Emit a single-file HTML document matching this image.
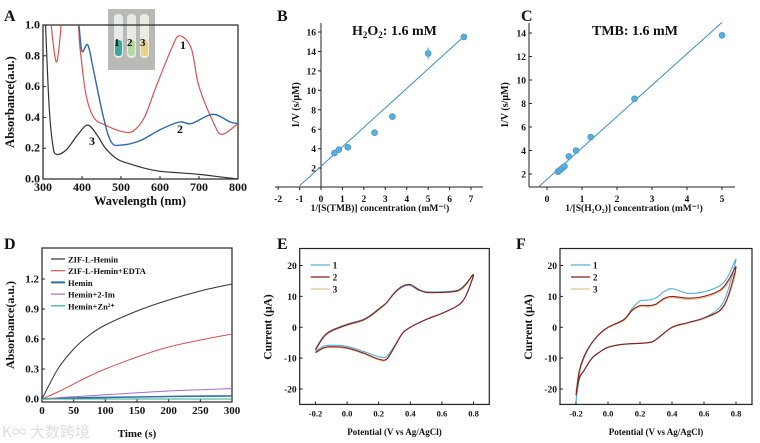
<!DOCTYPE html>
<html><head><meta charset="utf-8"><style>
body{margin:0;background:#fff;width:760px;height:443px;overflow:hidden}
svg{display:block}
text{font-family:"Liberation Serif",serif;font-weight:bold;fill:#111}
</style></head><body>
<svg id="fig" width="760" height="443" viewBox="0 0 760 443" xmlns="http://www.w3.org/2000/svg">
<text x="4" y="21" font-size="16">A</text>
<text x="277" y="21" font-size="16">B</text>
<text x="521" y="21" font-size="16">C</text>
<text x="4" y="249" font-size="16">D</text>
<text x="277" y="249" font-size="16">E</text>
<text x="516" y="249" font-size="16">F</text>
<text x="2" y="437" font-size="15" style="font-family:'Noto Sans CJK SC',sans-serif;font-weight:normal;fill:#ddd">K∞ 大数跨境</text>
<g>
<rect x="108" y="9" width="47" height="61" fill="#b9bab5"/>
<rect x="114" y="14" width="9" height="44" rx="4" fill="#e6ebe8"/><rect x="115" y="40" width="7" height="16" rx="3" fill="#3aa89c"/>
<rect x="127" y="14" width="9" height="44" rx="4" fill="#e8ebe5"/><rect x="128" y="40" width="7" height="16" rx="3" fill="#b7d9a8"/>
<rect x="140" y="14" width="9" height="44" rx="4" fill="#ecebe2"/><rect x="141" y="40" width="7" height="16" rx="3" fill="#e9d27a"/>
<text x="114" y="46" font-size="11">1</text><text x="127" y="46" font-size="11">2</text><text x="140" y="46" font-size="11">3</text>
</g>
</svg>
<script>
// ---- Panel A data
const aWl1=[318,325,335,345,350,385,395,410,430,460,500,530,560,590,630,650,680,700,740,760,800];
const aAbs1=[1.1,0.9,0.76,0.95,1.1,1.1,0.85,0.55,0.4,0.35,0.31,0.31,0.4,0.6,0.85,0.93,0.85,0.6,0.35,0.29,0.36];
const aWl2=[385,392,400,415,430,455,475,500,550,600,650,680,735,780,800];
const aAbs2=[1.1,1.0,0.83,0.87,0.7,0.4,0.24,0.22,0.25,0.32,0.37,0.36,0.42,0.37,0.36];
const aWl3=[305,315,325,335,360,390,415,440,460,490,520,560,600,650,700,750,800];
const aAbs3=[1.1,0.5,0.22,0.16,0.19,0.29,0.35,0.28,0.2,0.13,0.1,0.07,0.05,0.04,0.03,0.015,0.0];
const aXTicks=[300,400,500,600,700,800];
const aYTicks=[0.0,0.2,0.4,0.6,0.8,1.0];
// ---- Panel B data
const bX=[0.625,0.83,1.25,2.5,3.33,5,6.67];
const bY=[3.55,3.9,4.15,5.65,7.3,13.8,15.5];
const bErr=[0.1,0.1,0.1,0.1,0.1,0.6,0.1];
const bFit=[2.0,2.2];
const bXTicks=[-2,-1,0,1,2,3,4,5,6,7];
const bYTicks=[2,4,6,8,10,12,14,16];
// ---- Panel C data
const cX=[0.31,0.36,0.42,0.5,0.625,0.83,1.25,2.5,5];
const cY=[2.2,2.3,2.45,2.65,3.5,4.0,5.15,8.4,13.8];
const cFit=[2.67,1.55];
const cXTicks=[0,1,2,3,4,5];
const cYTicks=[2,4,6,8,10,12,14];
// ---- Panel D data
const dT=[0,25,50,75,100,150,200,250,300];
const dNames=["ZIF-L-Hemin","ZIF-L-Hemin+EDTA","Hemin","Hemin+2-Im","Hemin+Zn²⁺"];
const dSeries=[[0,0.3,0.5,0.64,0.74,0.88,0.99,1.08,1.15],[0,0.07,0.15,0.23,0.3,0.42,0.52,0.59,0.65],[0,0.005,0.01,0.013,0.016,0.02,0.025,0.028,0.03],[0,0.012,0.022,0.032,0.042,0.062,0.08,0.092,0.105],[0,0,0,0,0,0,0,0,0]];
const dColors=["#333","#d9534f","#2f6fa0","#a070c8","#2fae8f"];
const dXTicks=[0,50,100,150,200,250,300];
const dYTicks=[0.0,0.3,0.6,0.9,1.2];
// ---- Panel E data
const eV=[-0.2,-0.15,-0.1,0,0.1,0.15,0.2,0.25,0.3,0.35,0.4,0.45,0.5,0.6,0.7,0.75,0.8,0.75,0.7,0.6,0.5,0.4,0.35,0.3,0.25,0.2,0.1,0,-0.1,-0.15,-0.2];
const eI1=[-7,-3,-1,1,2.5,4,6,8,11,13,13.5,12,11.5,11.5,12,14,17,10,7,4.5,2.5,0,-2,-6,-9.5,-9.5,-7.8,-6.2,-5.8,-6.2,-7.8];
const eI2=[-7.3,-3.2,-1.2,0.8,2.3,3.8,5.8,8,11.2,13.3,13.8,12.3,11.3,11.3,11.8,13.8,17,10,7,4.5,2.5,0,-2,-6.3,-10.3,-10.3,-8.3,-6.7,-6.3,-6.7,-8.2];
const eI3=[-7.5,-3.4,-1.4,0.6,2.1,3.6,5.6,7.8,11,13.1,13.6,12.4,11.5,11.3,11.7,13.6,17,10,7,4.5,2.5,0,-2,-6.5,-10.6,-10.6,-8.5,-6.9,-6.5,-6.9,-8.4];
// ---- Panel F data
const fV=[-0.2,-0.18,-0.15,-0.1,-0.05,0,0.1,0.15,0.2,0.25,0.3,0.35,0.4,0.5,0.6,0.7,0.75,0.8,0.75,0.7,0.6,0.5,0.4,0.3,0.25,0.1,0,-0.05,-0.1,-0.15,-0.18,-0.2];
const fI1=[-24,-15,-10,-5,-2,0,2.5,6,8.5,8.8,9.5,11.5,12.5,11,11.5,13.5,16.5,22,12,6.5,3,1.5,0,-4,-5,-5.5,-6.5,-8,-10,-14,-17,-24];
const fI2=[-22,-14.5,-9.5,-5,-2,0,2.5,5.5,7,7,7.5,9.3,10,9.4,10,12,15,19.5,10,5.5,3,1.5,0,-4,-5,-5.5,-6.5,-8,-10,-14,-16.5,-22];
const fI3=[-21,-14,-9.5,-5,-2.2,-0.2,2.2,5.2,6.6,6.6,7.2,9,9.6,9,9.6,11.5,14.3,18,9.5,5.3,2.8,1.3,-0.2,-4,-5,-5.5,-6.5,-8,-10,-14,-16,-21];
const cvColors=["#4fb0dc","#8b1a1a","#e9c488"];
const cvLabels=["1","2","3"];
const cvXTicks=[-0.2,0.0,0.2,0.4,0.6,0.8];
const cvYTicks=[-20,-10,0,10,20];

const NS="http://www.w3.org/2000/svg", svg=document.getElementById('fig');
function mk(tag,at,parent){const e=document.createElementNS(NS,tag);for(const k in at)e.setAttribute(k,at[k]);(parent||svg).appendChild(e);return e;}
function lin(d0,d1,r0,r1){return v=>r0+(v-d0)/(d1-d0)*(r1-r0);}
function txt(x,y,s,size,anchor,name,rot){const t=mk('text',{x:x,y:y,'font-size':size,'text-anchor':anchor||'middle'});t.textContent=s;if(rot)t.setAttribute('transform','rotate(-90 '+x+' '+y+')');


return t;}
function line(xs,ys,sx,sy,color,w,name,clip){let d='';xs.forEach((v,i)=>{d+=(i?'L':'M')+sx(v).toFixed(1)+','+sy(ys[i]).toFixed(1);});
const p=mk('path',{d:d,fill:'none',stroke:color,'stroke-width':w,'stroke-linejoin':'round'});if(clip)p.setAttribute('clip-path','url(#'+clip+')');


return p;}
function smooth(xs,ys,sx,sy,color,w,name,clip){const P=xs.map((v,i)=>[sx(v),sy(ys[i])]);let d='M'+P[0][0]+','+P[0][1];
for(let i=0;i<P.length-1;i++){const p0=P[Math.max(0,i-1)],p1=P[i],p2=P[i+1],p3=P[Math.min(P.length-1,i+2)];
d+='C'+(p1[0]+(p2[0]-p0[0])/6).toFixed(1)+','+(p1[1]+(p2[1]-p0[1])/6).toFixed(1)+' '+(p2[0]-(p3[0]-p1[0])/6).toFixed(1)+','+(p2[1]-(p3[1]-p1[1])/6).toFixed(1)+' '+p2[0].toFixed(1)+','+p2[1].toFixed(1);}
const p=mk('path',{d:d,fill:'none',stroke:color,'stroke-width':w});if(clip)p.setAttribute('clip-path','url(#'+clip+')');


return p;}
function frame(x0,y0,x1,y1,name,clipId){const r=mk('rect',{x:x0,y:y0,width:x1-x0,height:y1-y0,fill:'none',stroke:'#222','stroke-width':1.2});


if(clipId){const c=mk('clipPath',{id:clipId});mk('rect',{x:x0,y:y0,width:x1-x0,height:y1-y0},c);}}
function xticks(ticks,sx,yb,fmt,name,size){ticks.forEach(v=>{mk('line',{x1:sx(v),x2:sx(v),y1:yb,y2:yb-3,stroke:'#222'});txt(sx(v),yb+12,fmt(v),size||10,'middle',name);});}
function yticks(ticks,sy,xl,fmt,name,size){ticks.forEach(v=>{mk('line',{x1:xl,x2:xl+3,y1:sy(v),y2:sy(v),stroke:'#222'});txt(xl-3,sy(v)+3.5,fmt(v),size||10,'end',name);});}

// ---- Panel A
{const sx=lin(300,800,43,238),sy=lin(0,1,179,25);
frame(43,25,238,179,'panel-a-frame','clipA');
xticks(aXTicks,sx,179,v=>v,'a-x-tick-label',12);
yticks(aYTicks,sy,43,v=>v.toFixed(1),'a-y-tick-label',12);
smooth(aWl3,aAbs3,sx,sy,'#333',1.2,'a-curve-3','clipA');
smooth(aWl1,aAbs1,sx,sy,'#e0504f',1.2,'a-curve-1','clipA');
smooth(aWl2,aAbs2,sx,sy,'#2e69b0',1.4,'a-curve-2','clipA');
txt(183,49,'1',12,'middle','a-curve-1-label');txt(180,133,'2',12,'middle','a-curve-2-label');txt(92,145,'3',12,'middle','a-curve-3-label');
txt(140,205,'Wavelength (nm)',12.5,'middle','a-x-title');txt(14,102,'Absorbance(a.u.)',12.5,'middle','a-y-title',true);}

// ---- Panel B
{const sx=lin(0,7,321,471),sy=lin(0,16,187.6,32);
mk('line',{x1:275,x2:483,y1:187,y2:187,stroke:'#222'});mk('line',{x1:321,x2:321,y1:187,y2:23,stroke:'#222'});
xticks(bXTicks,sx,190,v=>v,'b-x-tick-label',9.5);
bYTicks.forEach(v=>{mk('line',{x1:321,x2:318,y1:sy(v),y2:sy(v),stroke:'#222'});txt(316,sy(v)+3.5,v,9.5,'end','b-y-tick-label');});
line([-1,6.67],[bFit[0]*-1+bFit[1],bFit[0]*6.67+bFit[1]],sx,sy,'#3c8fc0',1,'b-fit-line');
bX.forEach((v,i)=>{mk('line',{x1:sx(v),x2:sx(v),y1:sy(bY[i]-bErr[i]),y2:sy(bY[i]+bErr[i]),stroke:'#4a9fd0'});
const c=mk('circle',{cx:sx(v),cy:sy(bY[i]),r:3,fill:'#5aaede',stroke:'#3a8fc0','stroke-width':0.6});

});
const t=txt(352,35,'',14,'start','b-annotation');t.innerHTML='H<tspan dy="3" font-size="9">2</tspan><tspan dy="-3">O</tspan><tspan dy="3" font-size="9">2</tspan><tspan dy="-3">: 1.6 mM</tspan>';
txt(380,211,'1/[S(TMB)] concentration (mM⁻¹)',9.5,'middle','b-x-title');txt(299,105,'1/V (s/μM)',10,'middle','b-y-title',true);}

// ---- Panel C
{const sx=lin(0,5,547,722),sy=lin(2,14,174,33);
mk('line',{x1:529,x2:735,y1:187,y2:187,stroke:'#222'});mk('line',{x1:529,x2:529,y1:187,y2:23,stroke:'#222'});
xticks(cXTicks,sx,190,v=>v,'c-x-tick-label',9.5);
cYTicks.forEach(v=>{mk('line',{x1:529,x2:532,y1:sy(v),y2:sy(v),stroke:'#222'});txt(526,sy(v)+3.5,v,9.5,'end','c-y-tick-label');});
line([-0.22,5],[cFit[0]*-0.22+cFit[1],cFit[0]*5+cFit[1]],sx,sy,'#3c8fc0',1,'c-fit-line');
cX.forEach((v,i)=>{const c=mk('circle',{cx:sx(v),cy:sy(cY[i]),r:3,fill:'#5aaede',stroke:'#3a8fc0','stroke-width':0.6});

});
txt(592,35,'TMB: 1.6 mM',14,'start','c-annotation');
txt(634,211,'1/[S(H₂O₂)] concentration (mM⁻¹)',9.5,'middle','c-x-title');txt(508,105,'1/V (s/μM)',10,'middle','c-y-title',true);}

// ---- Panel D
{const sx=lin(0,300,42,232),sy=lin(0,1.2,399,279);
frame(42,248,232,402,'panel-d-frame','clipD');
xticks(dXTicks,sx,402,v=>v,'d-x-tick-label',11);
yticks(dYTicks,sy,42,v=>v.toFixed(1),'d-y-tick-label',11);
dSeries.forEach((s,k)=>{smooth(dT,s,sx,sy,dColors[k],k==2?1.6:1,'d-series-line','clipD');
const ly=259+k*11.7;mk('line',{x1:51,x2:65,y1:ly,y2:ly,stroke:dColors[k],'stroke-width':k==2?2:1.2});
txt(68,ly+3.5,dNames[k],8.5,'start','d-legend-entry');});
txt(137,437,'Time (s)',11,'middle','d-x-title');txt(14,325,'Absorbance(a.u.)',12,'middle','d-y-title',true);}

// ---- CV panels
function cv(x0,x1,name,V,Is){const sx=lin(-0.2,0.8,x0,x1),sy=lin(-20,20,389,265.5);
const L=sx(-0.3),R=sx(0.9);frame(L,sy(25.5),R,sy(-25),name+'-frame','clip'+name);
xticks(cvXTicks,sx,sy(-25),v=>v.toFixed(1),name+'-x-tick-label',8.5);
yticks(cvYTicks,sy,L,v=>v,name+'-y-tick-label',9.5);
[2,0,1].forEach(k=>{smooth(V,Is[k],sx,sy,cvColors[k],1.1,name+'-curve-'+cvLabels[k],'clip'+name);});
cvLabels.forEach((s,k)=>{const ly=265+k*12;mk('line',{x1:L+11,x2:L+30,y1:ly,y2:ly,stroke:cvColors[k],'stroke-width':1.3});txt(L+33,ly+3.5,s,9,'start',name+'-legend-entry');});
txt((L+R)/2,435,'Potential (V vs Ag/AgCl)',9,'middle',name+'-x-title');txt(L-28,327,'Current (μA)',11.5,'middle',name+'-y-title',true);}
cv(315.5,473.5,'e',eV,[eI1,eI2,eI3]);
cv(576,736,'f',fV,[fI1,fI2,fI3]);
</script>
</body></html>
